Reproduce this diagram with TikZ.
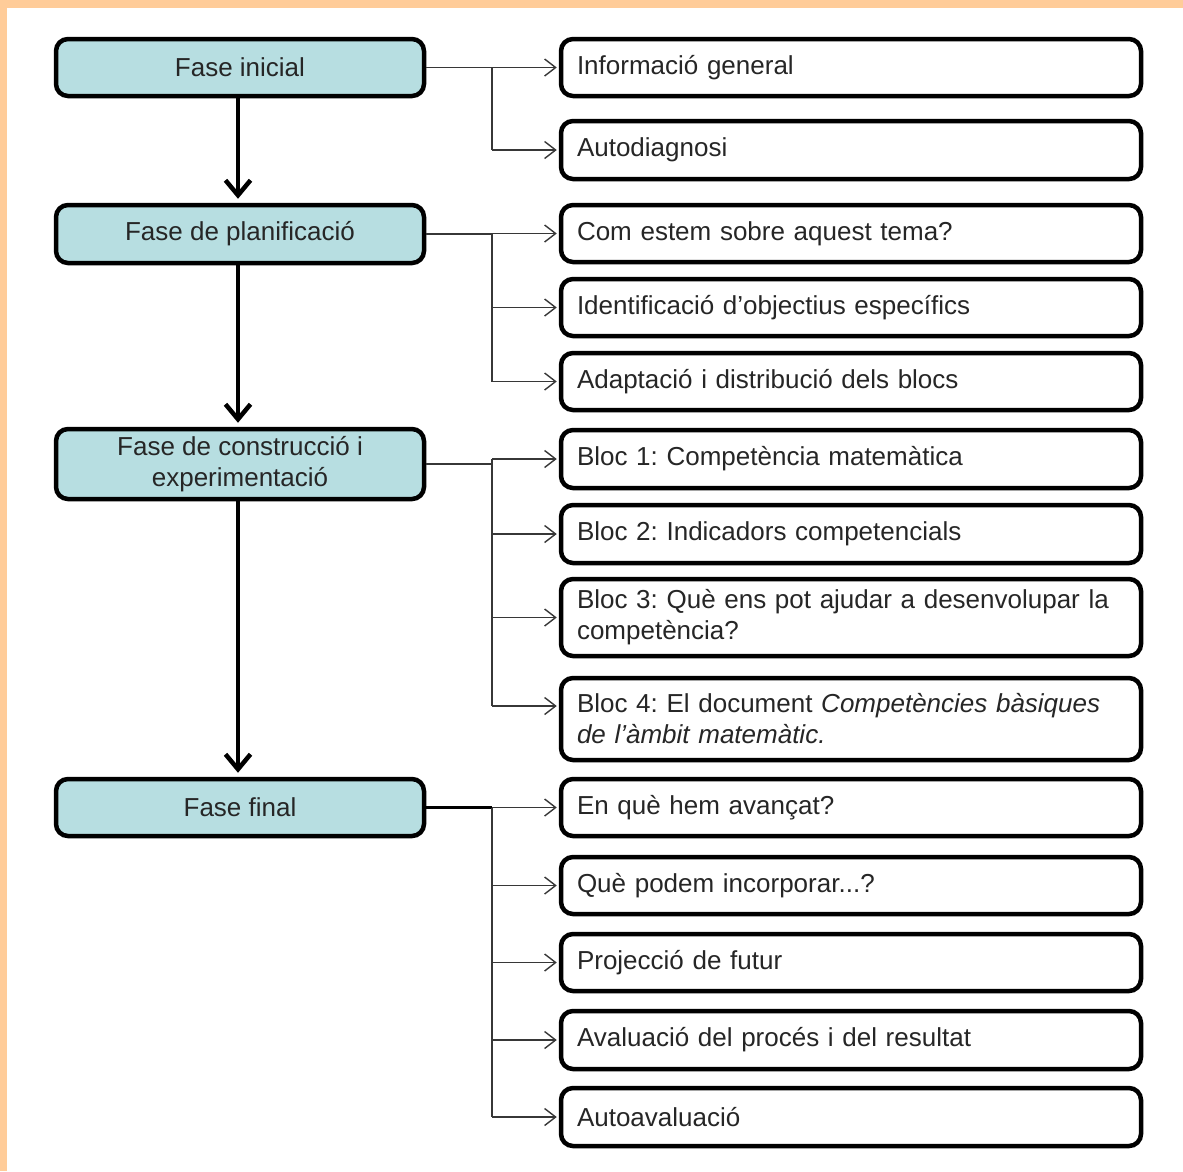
\documentclass[tikz,border=0pt]{standalone}
\usepackage{fontspec}
\setmainfont{Liberation Sans}
\usetikzlibrary{arrows.meta}
\definecolor{boxblue}{RGB}{183,222,225}
\definecolor{frameorange}{RGB}{255,204,153}
\definecolor{txt}{RGB}{38,38,38}
\definecolor{conncol}{RGB}{55,55,55}
\begin{document}
\frenchspacing
\begin{tikzpicture}[x=1pt,y=-1pt,
 every node/.style={font=\fontsize{26}{31}\selectfont, text=txt},
 phase/.style={draw=black, line width=4.5pt, rounded corners=12pt, fill=boxblue, minimum width=368, align=center, inner sep=0pt},
 item/.style={draw=black, line width=4.5pt, rounded corners=12pt, fill=white, minimum width=580, text width=548, align=left, inner xsep=16pt, inner ysep=0pt},
 conn/.style={draw=conncol, line width=1.4pt},
 tip/.style={conn, -{Straight Barb[length=11pt,width=17pt]}, shorten >=2pt},
 flow/.style={draw=black, line width=4.5pt, -{Straight Barb[length=15pt,width=25pt]}, shorten >=4pt},
]
\useasboundingbox (0,0) rectangle (1183,1171);
\fill[white] (0,0) rectangle (1183,1171);
\fill[frameorange] (0,0) rectangle (1183,8);
\fill[frameorange] (0,0) rectangle (7,1171);

% phases
\node[phase, minimum height=57] (a1) at (240,67.5) {Fase inicial};
\node[phase, minimum height=58] (a2) at (240,234) {Fase de planificació};
\node[phase, minimum height=70] (a3) at (240,464) {Fase de construcció i\\experimentació};
\node[phase, minimum height=57] (a4) at (240,807.5) {Fase final};

% items
\node[item, minimum height=57] (r1) at (851,67.5) {Informació general};
\node[item, minimum height=58] (r2) at (851,150) {Autodiagnosi};
\node[item, minimum height=57] (r3) at (851,233.5) {Com estem sobre aquest tema?};
\node[item, minimum height=57] (r4) at (851,307.5) {Identificació d’objectius específics};
\node[item, minimum height=57] (r5) at (851,381.5) {Adaptació i distribució dels blocs};
\node[item, minimum height=58] (r6) at (851,459) {Bloc 1: Competència matemàtica};
\node[item, minimum height=58] (r7) at (851,534) {Bloc 2: Indicadors competencials};
\node[item, minimum height=77] (r8) at (851,617.5) {\makebox[523pt][s]{Bloc 3: Què ens pot ajudar a desenvolupar la}\\competència?};
\node[item, minimum height=82] (r9) at (851,719) {\makebox[523pt][s]{Bloc 4: El document \textit{Competències bàsiques}}\\\textit{de l’àmbit matemàtic.}};
\node[item, minimum height=57] (r10) at (851,807.5) {En què hem avançat?};
\node[item, minimum height=57] (r11) at (851,885.5) {Què podem incorporar...?};
\node[item, minimum height=57] (r12) at (851,962.5) {Projecció de futur};
\node[item, minimum height=58] (r13) at (851,1040) {Avaluació del procés i del resultat};
\node[item, minimum height=58] (r14) at (851,1117) {Autoavaluació};

% branch column
\coordinate (bx) at (492,0);
\coordinate (r9in) at ([yshift=13pt]r9.west);

% flow arrows
\draw[flow] ([xshift=-2pt]a1.south) -- ([xshift=-2pt]a2.north);
\draw[flow] ([xshift=-2pt]a2.south) -- ([xshift=-2pt]a3.north);
\draw[flow] ([xshift=-2pt]a3.south) -- ([xshift=-2pt]a4.north);

% group 1
\draw[conn] (a1.east) -- (a1.east -| bx) |- (r2.west -| bx);
\draw[tip] (a1.east -| bx) -- (r1.west);
\draw[tip] (r2.west -| bx) -- (r2.west);
% group 2
\draw[conn] (a2.east) -- (a2.east -| bx) |- (r5.west -| bx);
\draw[tip] (r3.west -| bx) -- (r3.west);
\draw[tip] (r4.west -| bx) -- (r4.west);
\draw[tip] (r5.west -| bx) -- (r5.west);
% group 3
\draw[conn] (a3.east) -- (a3.east -| bx);
\draw[conn] (r6.west -| bx) -- (r9in -| bx);
\draw[tip] (r6.west -| bx) -- (r6.west);
\draw[tip] (r7.west -| bx) -- (r7.west);
\draw[tip] (r8.west -| bx) -- (r8.west);
\draw[tip] (r9in -| bx) -- (r9in);
% group 4
\draw[conn, draw=black, line width=2.4pt] (a4.east) -- (a4.east -| bx);
\draw[conn] (a4.east -| bx) -- (r14.west -| bx);
\draw[tip] (a4.east -| bx) -- (r10.west);
\draw[tip] (r11.west -| bx) -- (r11.west);
\draw[tip] (r12.west -| bx) -- (r12.west);
\draw[tip] (r13.west -| bx) -- (r13.west);
\draw[tip] (r14.west -| bx) -- (r14.west);
\end{tikzpicture}
\end{document}
